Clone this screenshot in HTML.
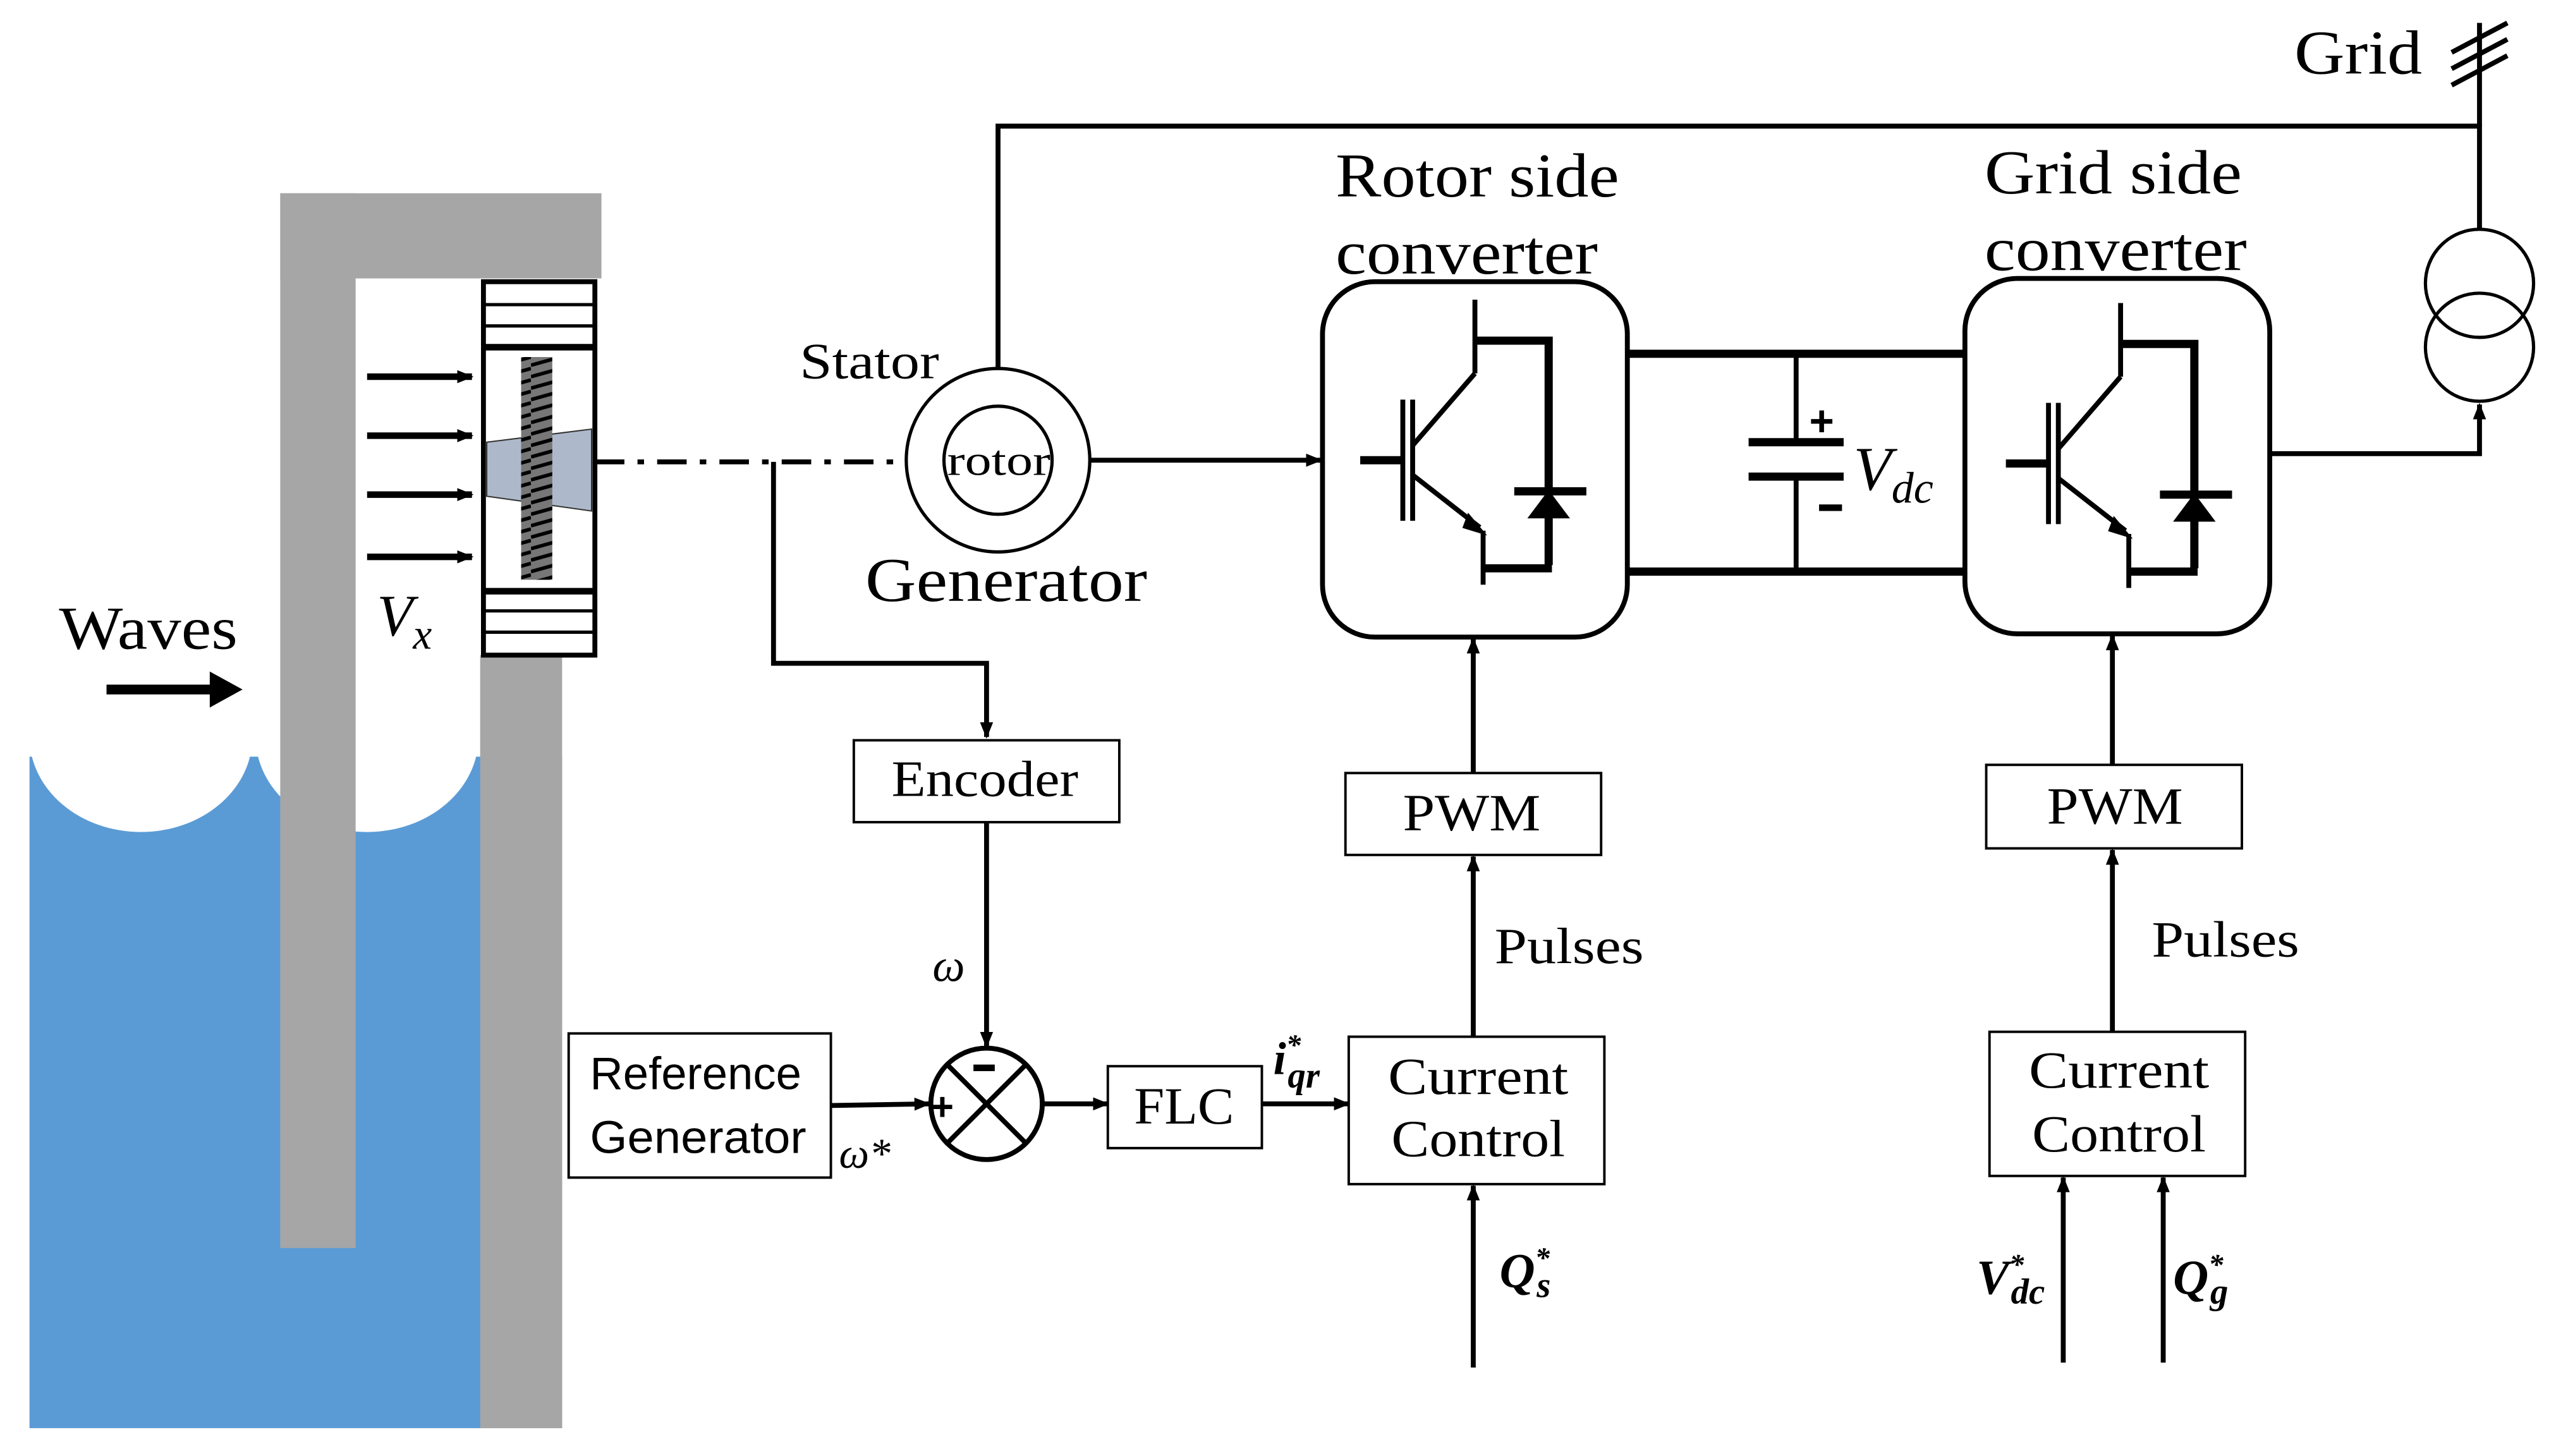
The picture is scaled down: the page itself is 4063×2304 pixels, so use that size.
<!DOCTYPE html>
<html><head><meta charset="utf-8"><style>
html,body{margin:0;padding:0;background:#fff;}
svg{display:block;}
.s{font-family:"Liberation Serif",serif;fill:#000;}
.a{font-family:"Liberation Sans",sans-serif;fill:#000;}
</style></head><body>
<svg width="4063" height="2304" viewBox="0 0 1567 889" preserveAspectRatio="none" xmlns="http://www.w3.org/2000/svg">
<defs>
<marker id="ar" markerWidth="10" markerHeight="10" refX="9" refY="5" orient="auto" markerUnits="userSpaceOnUse"><path d="M0,1 L10,5 L0,9 Z" fill="#000"/></marker>
<pattern id="hatch" width="18" height="7" patternUnits="userSpaceOnUse"><rect width="18" height="7" fill="#777"/><path d="M0,6 L18,1" stroke="#000" stroke-width="2.2"/></pattern>
<g id="igbt" stroke="#000" fill="none">
<line x1="856" y1="244" x2="856" y2="318" stroke-width="3"/>
<line x1="862" y1="244" x2="862" y2="318" stroke-width="3"/>
<line x1="830" y1="281" x2="856" y2="281" stroke-width="5"/>
<line x1="900" y1="183" x2="900" y2="228" stroke-width="3"/>
<line x1="900" y1="228" x2="862" y2="272" stroke-width="3"/>
<polyline points="900,208 945,208 945,345" stroke-width="5"/>
<line x1="862" y1="290" x2="903" y2="322" stroke-width="3"/>
<path d="M896,314 L906,326 L893,322 Z" fill="#000" stroke-width="1"/>
<line x1="905" y1="324" x2="905" y2="357" stroke-width="3"/>
<line x1="905" y1="347" x2="947" y2="347" stroke-width="5"/>
<line x1="924" y1="300" x2="968" y2="300" stroke-width="5"/>
<path d="M945,300 L933,316 L957,316 Z" fill="#000" stroke-width="1"/>
</g>
</defs>
<!-- water -->
<rect x="18" y="462" width="325" height="410" fill="#5b9bd5"/>
<ellipse cx="86" cy="450" rx="68" ry="58" fill="#fff"/>
<ellipse cx="224" cy="450" rx="68" ry="58" fill="#fff"/>
<rect x="18" y="280" width="275" height="175" fill="#fff"/>
<!-- structure -->
<rect x="171" y="118" width="46" height="644" fill="#a6a6a6"/>
<rect x="171" y="118" width="196" height="52" fill="#a6a6a6"/>
<rect x="293" y="400" width="50" height="472" fill="#a6a6a6"/>
<!-- turbine -->
<rect x="295" y="172" width="68" height="228" fill="#fff" stroke="#000" stroke-width="3"/>
<g stroke="#000" stroke-width="2"><line x1="295" y1="186" x2="363" y2="186"/><line x1="295" y1="199" x2="363" y2="199"/><line x1="295" y1="373" x2="363" y2="373"/><line x1="295" y1="386" x2="363" y2="386"/></g>
<g stroke="#000" stroke-width="4"><line x1="295" y1="212" x2="363" y2="212"/><line x1="295" y1="361" x2="363" y2="361"/></g>
<path d="M297,270 L361,262 L361,312 L297,303 Z" fill="#adb9ca" stroke="#333" stroke-width="0.8"/>
<rect x="318" y="218" width="19" height="136" fill="url(#hatch)"/>
<g stroke="#000" stroke-width="4" marker-end="url(#ar)"><line x1="224" y1="230" x2="288" y2="230"/><line x1="224" y1="266" x2="288" y2="266"/><line x1="224" y1="302" x2="288" y2="302"/><line x1="224" y1="340" x2="288" y2="340"/></g>
<text x="36" y="396" class="s" font-size="37" textLength="109" lengthAdjust="spacingAndGlyphs">Waves</text>
<line x1="65" y1="421" x2="130" y2="421" stroke="#000" stroke-width="6"/>
<path d="M128,410 L148,421 L128,432 Z" fill="#000"/>
<text x="230" y="388" class="s" font-size="36" font-style="italic">V<tspan font-size="26" dy="8">x</tspan></text>
<!-- shaft -->
<line x1="363" y1="282" x2="552" y2="282" stroke="#000" stroke-width="3" stroke-dasharray="18,8,4,8"/>
<!-- generator -->
<circle cx="609" cy="281" r="56" fill="#fff" stroke="#000" stroke-width="2"/>
<circle cx="609" cy="281" r="33" fill="#fff" stroke="#000" stroke-width="2"/>
<text x="578" y="290" class="s" font-size="26" textLength="63" lengthAdjust="spacingAndGlyphs">rotor</text>
<text x="488" y="231" class="s" font-size="31" textLength="85" lengthAdjust="spacingAndGlyphs">Stator</text>
<text x="528" y="367" class="s" font-size="38" textLength="172" lengthAdjust="spacingAndGlyphs">Generator</text>
<polyline points="609,225 609,77 1513,77 1513,140" fill="none" stroke="#000" stroke-width="3"/>
<line x1="1513" y1="77" x2="1513" y2="14" stroke="#000" stroke-width="3"/>
<g stroke="#000" stroke-width="3"><line x1="1496" y1="32" x2="1530" y2="14"/><line x1="1496" y1="42" x2="1530" y2="24"/><line x1="1496" y1="52" x2="1530" y2="34"/></g>
<text x="1400" y="45" class="s" font-size="38" textLength="78" lengthAdjust="spacingAndGlyphs">Grid</text>
<circle cx="1513" cy="173" r="33" fill="none" stroke="#000" stroke-width="2"/>
<circle cx="1513" cy="212" r="33" fill="none" stroke="#000" stroke-width="2"/>
<polyline points="1385,277 1513,277 1513,247" fill="none" stroke="#000" stroke-width="3" marker-end="url(#ar)"/>
<line x1="665" y1="281" x2="806" y2="281" stroke="#000" stroke-width="3" marker-end="url(#ar)"/>
<!-- converters -->
<rect x="807" y="172" width="186" height="217" rx="32" fill="#fff" stroke="#000" stroke-width="3"/>
<rect x="1199" y="170" width="186" height="217" rx="32" fill="#fff" stroke="#000" stroke-width="3"/>
<use href="#igbt"/>
<use href="#igbt" transform="translate(394,2)"/>
<text x="815" y="120" class="s" font-size="38" textLength="173" lengthAdjust="spacingAndGlyphs">Rotor side</text>
<text x="815" y="167" class="s" font-size="38" textLength="160" lengthAdjust="spacingAndGlyphs">converter</text>
<text x="1211" y="118" class="s" font-size="38" textLength="157" lengthAdjust="spacingAndGlyphs">Grid side</text>
<text x="1211" y="165" class="s" font-size="38" textLength="160" lengthAdjust="spacingAndGlyphs">converter</text>
<!-- dc link -->
<g stroke="#000"><line x1="993" y1="216" x2="1199" y2="216" stroke-width="5"/><line x1="993" y1="349" x2="1199" y2="349" stroke-width="5"/>
<line x1="1096" y1="216" x2="1096" y2="270" stroke-width="3"/><line x1="1096" y1="291" x2="1096" y2="349" stroke-width="3"/>
<line x1="1067" y1="270" x2="1125" y2="270" stroke-width="5"/><line x1="1067" y1="291" x2="1125" y2="291" stroke-width="5"/></g>
<text x="1104" y="266" class="a" font-size="26" font-weight="bold">+</text>
<rect x="1110" y="308" width="14" height="4" fill="#000"/>
<text x="1131" y="299" class="s" font-size="38" font-style="italic">V<tspan font-size="27" dy="8">dc</tspan></text>
<!-- encoder path -->
<polyline points="472,282 472,405 602,405 602,450" fill="none" stroke="#000" stroke-width="3" marker-end="url(#ar)"/>
<rect x="521" y="452" width="162" height="50" fill="#fff" stroke="#000" stroke-width="1.5"/>
<text x="544" y="486" class="s" font-size="31" textLength="114" lengthAdjust="spacingAndGlyphs">Encoder</text>
<line x1="602" y1="502" x2="602" y2="639" stroke="#000" stroke-width="3" marker-end="url(#ar)"/>
<text x="569" y="599" class="s" font-size="28" font-style="italic">ω</text>
<circle cx="602" cy="674" r="34" fill="#fff" stroke="#000" stroke-width="3"/>
<g stroke="#000" stroke-width="3"><line x1="578" y1="650" x2="626" y2="698"/><line x1="626" y1="650" x2="578" y2="698"/></g>
<text x="568" y="684" class="a" font-size="24" font-weight="bold">+</text>
<rect x="594" y="650" width="13" height="4" fill="#000"/>
<rect x="347" y="631" width="160" height="88" fill="#fff" stroke="#000" stroke-width="1.5"/>
<text x="360" y="665" class="a" font-size="28" textLength="129" lengthAdjust="spacingAndGlyphs">Reference</text>
<text x="360" y="704" class="a" font-size="28" textLength="132" lengthAdjust="spacingAndGlyphs">Generator</text>
<line x1="507" y1="675" x2="567" y2="674" stroke="#000" stroke-width="3" marker-end="url(#ar)"/>
<text x="512" y="713" class="s" font-size="26" font-style="italic">ω*</text>
<line x1="636" y1="674" x2="676" y2="674" stroke="#000" stroke-width="3" marker-end="url(#ar)"/>
<rect x="676" y="651" width="94" height="50" fill="#fff" stroke="#000" stroke-width="1.5"/>
<text x="692" y="686" class="s" font-size="32" textLength="61" lengthAdjust="spacingAndGlyphs">FLC</text>
<line x1="770" y1="674" x2="823" y2="674" stroke="#000" stroke-width="3" marker-end="url(#ar)"/>
<text x="777" y="656" class="s" font-size="28" font-style="italic" font-weight="bold">i<tspan font-size="18" dy="-12">*</tspan><tspan font-size="22" dx="-8" dy="20">qr</tspan></text>
<!-- RSC control -->
<rect x="823" y="633" width="156" height="90" fill="#fff" stroke="#000" stroke-width="1.5"/>
<text x="847" y="668" class="s" font-size="32" textLength="110" lengthAdjust="spacingAndGlyphs">Current</text>
<text x="849" y="706" class="s" font-size="32" textLength="106" lengthAdjust="spacingAndGlyphs">Control</text>
<rect x="821" y="472" width="156" height="50" fill="#fff" stroke="#000" stroke-width="1.5"/>
<text x="856" y="507" class="s" font-size="32" textLength="84" lengthAdjust="spacingAndGlyphs">PWM</text>
<line x1="899" y1="633" x2="899" y2="523" stroke="#000" stroke-width="3" marker-end="url(#ar)"/>
<line x1="899" y1="472" x2="899" y2="390" stroke="#000" stroke-width="3" marker-end="url(#ar)"/>
<text x="912" y="588" class="s" font-size="31" textLength="91" lengthAdjust="spacingAndGlyphs">Pulses</text>
<line x1="899" y1="835" x2="899" y2="724" stroke="#000" stroke-width="3" marker-end="url(#ar)"/>
<text x="915" y="786" class="s" font-size="30" font-style="italic" font-weight="bold">Q<tspan font-size="18" dy="-12">*</tspan><tspan font-size="22" dx="-8" dy="18">s</tspan></text>
<!-- GSC control -->
<rect x="1214" y="630" width="156" height="88" fill="#fff" stroke="#000" stroke-width="1.5"/>
<text x="1238" y="664" class="s" font-size="32" textLength="110" lengthAdjust="spacingAndGlyphs">Current</text>
<text x="1240" y="703" class="s" font-size="32" textLength="106" lengthAdjust="spacingAndGlyphs">Control</text>
<rect x="1212" y="467" width="156" height="51" fill="#fff" stroke="#000" stroke-width="1.5"/>
<text x="1249" y="503" class="s" font-size="32" textLength="83" lengthAdjust="spacingAndGlyphs">PWM</text>
<line x1="1289" y1="630" x2="1289" y2="519" stroke="#000" stroke-width="3" marker-end="url(#ar)"/>
<line x1="1289" y1="467" x2="1289" y2="388" stroke="#000" stroke-width="3" marker-end="url(#ar)"/>
<text x="1313" y="584" class="s" font-size="31" textLength="90" lengthAdjust="spacingAndGlyphs">Pulses</text>
<line x1="1259" y1="832" x2="1259" y2="719" stroke="#000" stroke-width="3" marker-end="url(#ar)"/>
<line x1="1320" y1="832" x2="1320" y2="719" stroke="#000" stroke-width="3" marker-end="url(#ar)"/>
<text x="1206" y="790" class="s" font-size="30" font-style="italic" font-weight="bold">V<tspan font-size="18" dy="-12">*</tspan><tspan font-size="22" dx="-8" dy="18">dc</tspan></text>
<text x="1326" y="790" class="s" font-size="30" font-style="italic" font-weight="bold">Q<tspan font-size="18" dy="-12">*</tspan><tspan font-size="22" dx="-8" dy="18">g</tspan></text>
</svg>
</body></html>
